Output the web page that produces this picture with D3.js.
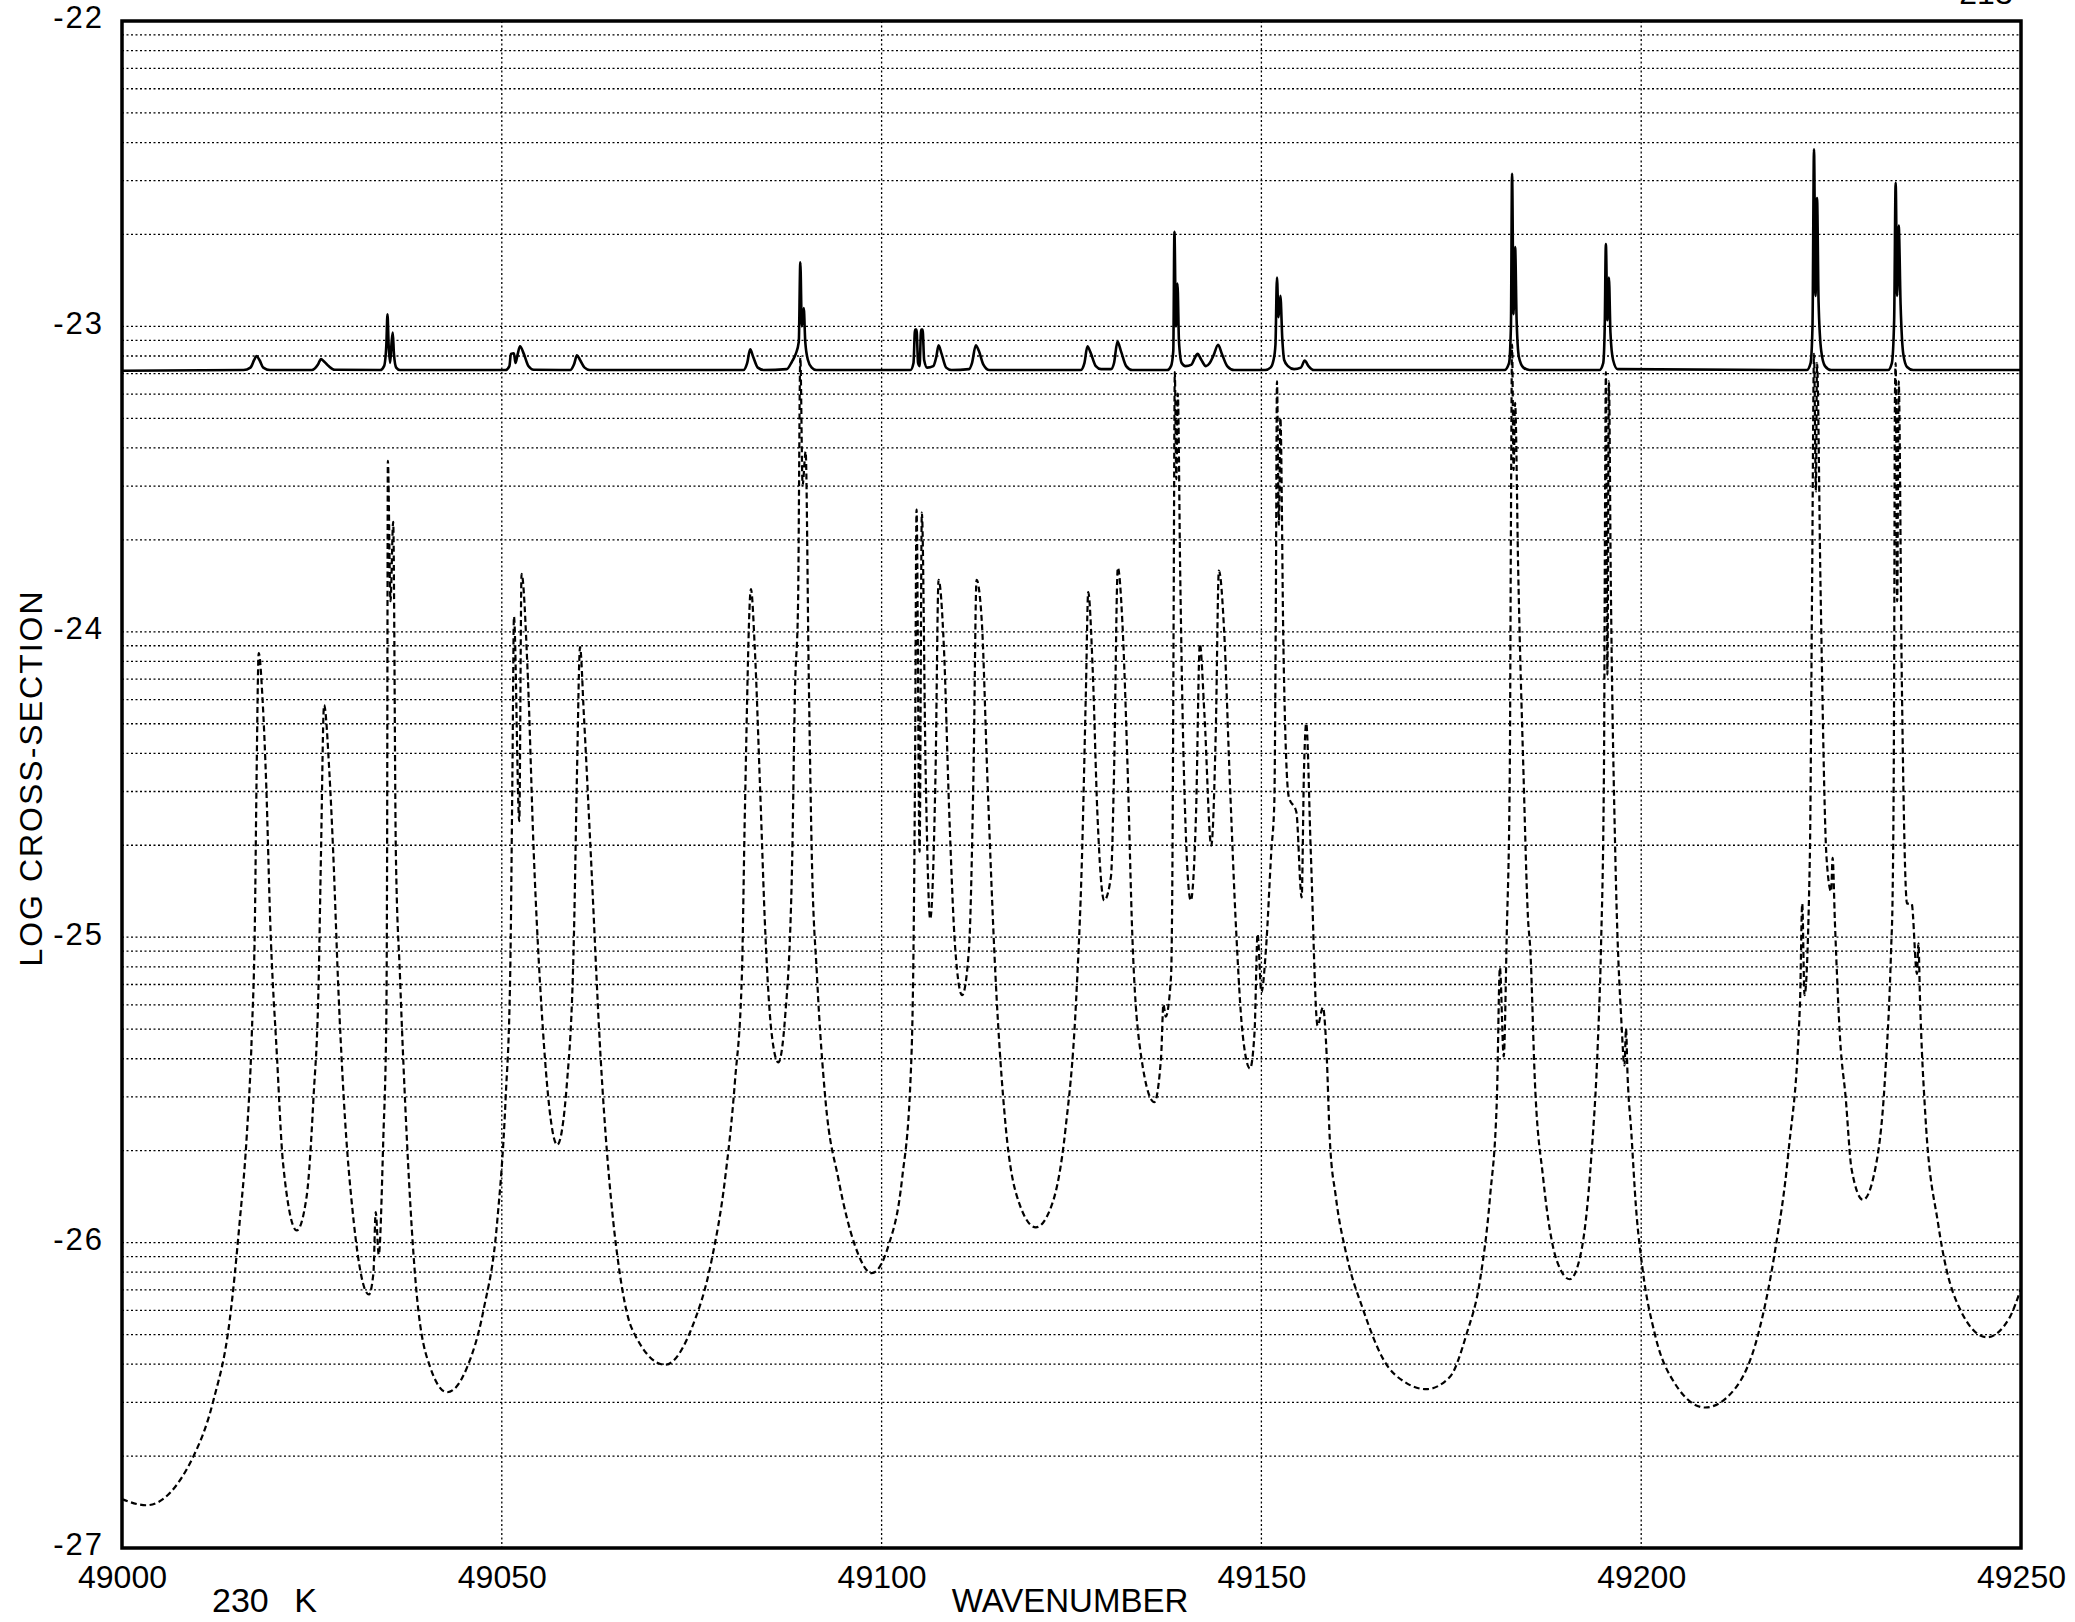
<!DOCTYPE html>
<html>
<head>
<meta charset="utf-8">
<script src="https://cdn.jsdelivr.net/npm/d3@7"></script>
<style>
body{margin:0;background:#fff}
svg{display:block}
text{font-family:"Liberation Sans",Arial,sans-serif;fill:#000}
</style>
</head>
<body>
<svg id="chart"></svg>
<script>
// tick values
var xTicks = [49000,49050,49100,49150,49200,49250]
var yTicks = [-27,-26,-25,-24,-23,-22]
var minorSteps = [2,3,4,5,6,7,8,9]

// upper curve (solid)
var solidWn = [49000,49016.0,49016.9,49017.4,49017.7,49018.1,49018.6,49019.5,49025.0,49025.8,49026.2,49026.6,49027.2,49028.0,
  49034.0,49034.5,49034.8,49034.95,49035.1,49035.3,49035.5,49035.65,49035.8,49036.1,49036.6,
  49050.5,49051.0,49051.2,49051.6,49051.8,49052.1,49052.4,49052.9,49053.5,49054.2,
  49059.0,49059.5,49059.9,49060.3,49060.9,49061.6,49081.8,49082.3,49082.7,49083.1,49083.7,49084.5,
  49087.5,49088.2,49088.7,49089.1,49089.3,49089.5,49089.75,49089.95,49090.3,49090.8,49091.4,
  49103.8,49104.2,49104.4,49104.6,49104.8,49105.0,49105.2,49105.4,49105.6,49106.0,
  49106.8,49107.2,49107.5,49107.9,49108.5,49109.2,49111.5,49111.9,49112.4,49112.8,49113.4,49114.2,
  49126.2,49126.7,49127.1,49127.5,49128.2,49128.9,49130.2,49130.6,49131.05,49131.5,49132.2,49133.0,
  49137.6,49138.1,49138.4,49138.55,49138.75,49138.95,49139.15,49139.5,49140.0,
  49140.8,49141.2,49141.6,49142.1,49142.7,49143.2,49143.7,49144.3,49144.8,49145.5,49146.4,
  49150.5,49151.2,49151.6,49151.85,49152.05,49152.25,49152.5,49152.75,49153.0,49153.5,49154.3,
  49155.2,49155.7,49156.2,49156.9,
  49182.0,49182.6,49182.85,49183.0,49183.2,49183.4,49183.6,49183.9,49184.5,49185.3,
  49194.5,49195.0,49195.2,49195.35,49195.55,49195.75,49195.95,49196.3,49196.9,
  49221.8,49222.3,49222.55,49222.75,49222.95,49223.15,49223.35,49223.7,49224.2,49225.0,
  49232.5,49233.0,49233.3,49233.5,49233.7,49233.9,49234.15,49234.5,49235.0,49235.8,49250]
var solidLog = [-23.145,-23.143,-23.135,-23.11,-23.097,-23.11,-23.135,-23.143,-23.143,-23.125,-23.107,-23.115,-23.13,-23.142,
  -23.143,-23.13,-23.06,-22.96,-23.06,-23.12,-23.05,-23.02,-23.09,-23.135,-23.143,
  -23.143,-23.13,-23.09,-23.088,-23.12,-23.09,-23.065,-23.09,-23.13,-23.142,
  -23.143,-23.125,-23.095,-23.11,-23.135,-23.143,-23.143,-23.12,-23.075,-23.10,-23.135,-23.143,
  -23.14,-23.115,-23.09,-23.05,-22.79,-23.0,-22.94,-23.05,-23.11,-23.135,-23.143,
  -23.143,-23.12,-23.01,-23.01,-23.12,-23.13,-23.01,-23.01,-23.11,-23.135,
  -23.13,-23.10,-23.062,-23.09,-23.135,-23.143,-23.14,-23.12,-23.062,-23.08,-23.125,-23.143,
  -23.143,-23.12,-23.065,-23.085,-23.13,-23.14,-23.14,-23.12,-23.05,-23.08,-23.13,-23.143,
  -23.143,-23.13,-23.08,-22.69,-23.0,-22.86,-23.05,-23.12,-23.13,
  -23.125,-23.105,-23.09,-23.11,-23.13,-23.12,-23.095,-23.06,-23.09,-23.13,-23.143,
  -23.143,-23.135,-23.11,-23.06,-22.84,-22.97,-22.90,-23.04,-23.11,-23.13,-23.14,
  -23.135,-23.112,-23.13,-23.143,
  -23.143,-23.12,-23.0,-22.50,-22.96,-22.74,-22.98,-23.10,-23.135,-23.143,
  -23.143,-23.12,-23.0,-22.73,-22.98,-22.84,-23.02,-23.11,-23.14,
  -23.143,-23.12,-23.0,-22.42,-22.90,-22.58,-22.92,-23.08,-23.13,-23.143,
  -23.143,-23.12,-22.98,-22.53,-22.90,-22.67,-22.93,-23.09,-23.133,-23.143,-23.143]

// lower curve (dashed)
var dashedWn = [49000.0,49003.2,49009.4,49012.0,49014.2,49015.5,49016.4,49017.1,49017.5,49017.7,49018.0,49018.5,49019.0,49019.5,
  49020.4,49021.2,49023.0,49024.3,49025.2,49025.9,49026.2,49026.6,49027.3,49027.8,49028.5,49029.2,49030.5,
  49032.5,49033.1,49033.4,49033.8,49034.4,49034.8,49034.9,49035.0,49035.35,49035.7,49036.05,49036.6,49037.5,
  49038.8,49040.6,49042.8,49045.4,49047.6,49049.4,49050.5,49051.1,49051.4,49051.6,49052.3,49052.6,49053.4,
  49054.2,49055.3,49057.3,49058.6,49059.5,49059.9,49060.3,49060.8,49061.7,49063.0,49064.8,49065.3,49067.1,
  49071.5,49075.0,49077.6,49079.4,49080.7,49081.6,49082.0,49082.8,49083.3,49084.0,49084.7,49085.5,49086.4,
  49087.3,49088.2,49088.6,49089.0,49089.3,49089.6,49090.0,49090.4,49090.8,49091.5,49092.6,49094.3,49096.5,
  49098.7,49100.9,49102.7,49103.8,49104.2,49104.4,49104.6,49105.0,49105.3,49105.8,49106.4,49107.1,49107.5,
  49108.2,49108.9,49109.7,49110.6,49111.5,49112.1,49112.5,49113.2,49113.9,49115.0,49116.3,49118.1,49120.3,
  49122.5,49124.2,49125.6,49126.4,49126.9,49127.2,49127.8,49128.4,49129.3,49130.2,49130.6,49131.1,49131.7,
  49132.4,49133.0,49133.9,49135.9,49136.8,49137.1,49137.4,49138.1,49138.3,49138.45,49138.6,49138.8,49139.0,
  49139.3,49139.8,49140.7,49141.4,49141.9,49142.5,49143.4,49144.0,49144.4,49145.1,49145.8,49146.7,49147.5,
  49148.5,49149.1,49149.5,49150.0,49150.6,49151.3,49151.7,49151.9,49152.05,49152.3,49152.5,49152.9,49153.6,
  49154.6,49155.3,49155.6,49155.9,49156.5,49157.4,49158.1,49158.6,49159.0,49159.8,49161.2,49163.4,49166.0,
  49169.1,49171.7,49174.8,49177.0,49178.8,49180.1,49181.0,49181.4,49181.9,49182.3,49182.7,49182.85,49183.0,
  49183.2,49183.4,49183.8,49184.5,49185.1,49185.4,49186.0,49187.1,49188.9,49190.6,49192.1,49193.4,49194.3,
  49194.7,49195.1,49195.25,49195.35,49195.55,49195.75,49196.0,49196.6,49197.4,49197.8,49198.0,49198.2,49198.7,
  49199.3,49200.2,49201.8,49204.4,49208.4,49212.3,49215.4,49217.6,49219.4,49220.9,49221.2,49221.5,49222.2,
  49222.5,49222.75,49223.0,49223.15,49223.6,49224.4,49225.0,49225.2,49225.5,49226.2,49226.9,49227.7,49229.2,
  49230.8,49232.1,49232.9,49233.1,49233.3,49233.4,49233.5,49233.7,49233.9,49234.3,49235.0,49235.6,49236.3,
  49236.5,49236.7,49237.4,49239.1,49241.3,49245.5,49248.4,49250.0]
var dashedLog = [-26.84,-26.86,-26.70,-26.52,-26.25,-25.93,-25.66,-25.31,-24.94,-24.51,-24.07,-24.22,-24.51,-24.94,
  -25.39,-25.74,-25.96,-25.85,-25.53,-25.13,-24.72,-24.24,-24.46,-24.72,-25.18,-25.53,-25.93,
  -26.17,-26.10,-25.90,-26.04,-25.66,-25.26,-24.72,-23.44,-23.90,-23.64,-24.72,-25.13,-25.66,
  -26.17,-26.41,-26.49,-26.41,-26.22,-25.93,-25.53,-25.13,-24.46,-23.95,-24.62,-23.81,-24.13,
  -24.72,-25.26,-25.68,-25.47,-24.99,-24.46,-24.05,-24.27,-24.72,-25.39,-25.96,-26.06,-26.28,
  -26.40,-26.28,-26.06,-25.79,-25.47,-25.13,-24.59,-23.86,-24.05,-24.51,-24.99,-25.31,-25.41,
  -25.26,-24.78,-24.19,-23.91,-23.10,-23.52,-23.41,-24.13,-24.72,-25.13,-25.53,-25.79,-26.01,
  -26.10,-26.01,-25.79,-25.47,-25.04,-24.46,-23.60,-24.72,-23.61,-24.46,-24.94,-24.46,-23.83,
  -24.05,-24.59,-25.04,-25.19,-25.04,-24.46,-23.83,-23.97,-24.46,-25.13,-25.61,-25.87,-25.95,
  -25.87,-25.63,-25.21,-24.72,-24.19,-23.87,-24.13,-24.59,-24.88,-24.80,-24.46,-23.79,-23.97,
  -24.46,-24.99,-25.34,-25.54,-25.39,-25.22,-25.26,-25.13,-24.72,-23.92,-23.15,-23.50,-23.22,
  -23.79,-24.46,-24.88,-24.59,-24.04,-24.27,-24.70,-24.32,-23.80,-24.00,-24.46,-24.99,-25.31,
  -25.43,-25.31,-24.99,-25.18,-25.04,-24.72,-24.56,-23.92,-23.18,-23.65,-23.30,-24.05,-24.54,
  -24.59,-24.87,-24.46,-24.30,-24.72,-25.29,-25.23,-25.39,-25.66,-25.85,-26.04,-26.22,-26.38,
  -26.46,-26.48,-26.44,-26.30,-26.12,-25.85,-25.53,-25.10,-25.39,-24.99,-24.46,-23.65,-23.06,
  -23.47,-23.25,-23.79,-24.46,-24.94,-25.04,-25.47,-25.79,-26.06,-26.12,-26.03,-25.73,-25.34,
  -25.04,-24.44,-23.54,-23.15,-24.14,-23.18,-23.84,-24.74,-25.28,-25.42,-25.30,-25.45,-25.64,
  -25.88,-26.09,-26.30,-26.46,-26.54,-26.48,-26.30,-26.03,-25.70,-25.22,-24.89,-25.19,-24.74,
  -23.84,-23.09,-23.54,-23.12,-23.84,-24.74,-24.85,-24.74,-24.95,-25.34,-25.52,-25.76,-25.86,
  -25.76,-25.46,-25.04,-24.86,-24.14,-23.24,-23.12,-23.90,-23.18,-24.14,-24.89,-24.89,-25.12,
  -25.02,-25.20,-25.58,-25.94,-26.18,-26.31,-26.25,-26.15]

var screen = {width:2075,height:1622}
var margins = {top:21,right:54,left:122,bottom:74}

var width = screen.width - margins.left - margins.right
var height = screen.height - margins.top - margins.bottom

var xScale = d3.scaleLinear()
               .domain([49000,49250])
               .range([0,width])
var yScale = d3.scaleLinear()
               .domain([-27,-22])
               .range([height,0])

var svg = d3.select("#chart")
            .attr("width",screen.width)
            .attr("height",screen.height)

var graph = svg.append("g")
               .attr("id","graph")
               .attr("transform","translate("+margins.left+","+margins.top+")")

// horizontal grid: every decade plus 2..9 inside it
var hLines = []
for(var dec=-27; dec<-22; dec++)
{
    if(dec>-27){ hLines.push(dec) }
    minorSteps.forEach(function(k){ hLines.push(dec+Math.log10(k)) })
}

graph.append("g")
     .selectAll("line")
     .data(hLines)
     .enter()
     .append("line")
     .attr("x1",0)
     .attr("x2",width)
     .attr("y1",function(d){return yScale(d)})
     .attr("y2",function(d){return yScale(d)})
     .attr("stroke","#000")
     .attr("stroke-width",1.3)
     .attr("stroke-dasharray","2,2.5")

graph.append("g")
     .selectAll("line")
     .data(xTicks.slice(1,-1))
     .enter()
     .append("line")
     .attr("x1",function(d){return xScale(d)})
     .attr("x2",function(d){return xScale(d)})
     .attr("y1",0)
     .attr("y2",height)
     .attr("stroke","#000")
     .attr("stroke-width",1.3)
     .attr("stroke-dasharray","2,2.5")

// curves
var lineGenerator = d3.line()
                      .x(function(d){return xScale(d[0])})
                      .y(function(d){return yScale(d[1])})
                      .curve(d3.curveMonotoneX)

var dashedData = dashedWn.map(function(w,i){return [w,dashedLog[i]]})
var solidData = solidWn.map(function(w,i){return [w,solidLog[i]]})

graph.append("path")
     .datum(dashedData)
     .attr("d",lineGenerator)
     .attr("fill","none")
     .attr("stroke","#000")
     .attr("stroke-width",2.2)
     .attr("stroke-dasharray","6,3.5")

graph.append("path")
     .datum(solidData)
     .attr("d",lineGenerator)
     .attr("fill","none")
     .attr("stroke","#000")
     .attr("stroke-width",2.6)
     .attr("stroke-linejoin","round")

// frame
graph.append("rect")
     .attr("x",0)
     .attr("y",0)
     .attr("width",width)
     .attr("height",height)
     .attr("fill","none")
     .attr("stroke","#000")
     .attr("stroke-width",3.5)

// axes
var xAxis = d3.axisBottom(xScale)
              .tickValues(xTicks)
              .tickSize(0)
              .tickPadding(17)
              .tickFormat(function(d){return String(d)})
var yAxis = d3.axisLeft(yScale)
              .tickValues(yTicks)
              .tickSize(0)
              .tickPadding(18)
              .tickFormat(function(d){return String(d)})

var gx = graph.append("g")
              .attr("id","xAxis")
              .attr("transform","translate(0,"+height+")")
              .call(xAxis)
var gy = graph.append("g")
              .attr("id","yAxis")
              .call(yAxis)

gx.select(".domain").remove()
gy.select(".domain").remove()
gx.selectAll("text")
  .attr("font-family","Liberation Sans, Arial, sans-serif")
  .attr("font-size",32)
gy.selectAll("text")
  .attr("font-family","Liberation Sans, Arial, sans-serif")
  .attr("font-size",31)
  .attr("letter-spacing",2)
  .attr("dy","0.22em")

// titles
svg.append("text")
   .attr("x",1070)
   .attr("y",1612)
   .attr("text-anchor","middle")
   .attr("font-size",33)
   .text("WAVENUMBER")

svg.append("text")
   .attr("x",212)
   .attr("y",1612)
   .attr("font-size",34)
   .attr("word-spacing",16)
   .text("230 K")

svg.append("text")
   .attr("transform","translate(42,778) rotate(-90)")
   .attr("text-anchor","middle")
   .attr("font-size",32)
   .attr("letter-spacing",2)
   .text("LOG CROSS-SECTION")

// page number cut off at the top edge
svg.append("text")
   .attr("x",1986)
   .attr("y",4)
   .attr("text-anchor","middle")
   .attr("font-size",32)
   .text("213")
</script>
</body>
</html>
